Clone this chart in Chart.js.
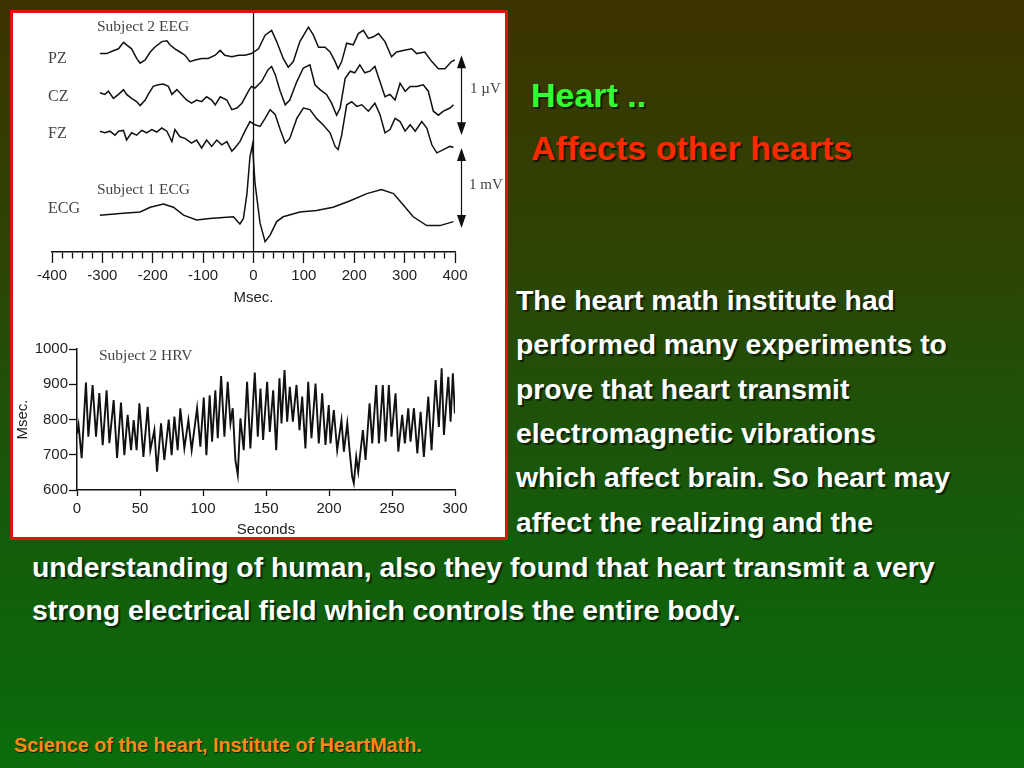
<!DOCTYPE html>
<html>
<head>
<meta charset="utf-8">
<script src="https://cdn.jsdelivr.net/npm/chart.js@4.4.0/dist/chart.umd.min.js"></script>
<style>
  html, body { margin: 0; padding: 0; }
  body {
    width: 1024px; height: 768px; overflow: hidden; position: relative;
    background: linear-gradient(180deg, #3d3200 0%, #2c4506 35%, #17590b 65%, #0b680b 94%);
    font-family: Arial, "Liberation Sans", sans-serif;
  }
  #band { position: absolute; left: 0; top: 726px; width: 1024px; height: 42px; background: #0a6c0a; }
  #figure {
    position: absolute; left: 10px; top: 10px; width: 492px; height: 524px;
    background: #fff; border: 3px solid #e0120c;
  }
  canvas { position: absolute; }
  #eeg { left: 13px; top: 13px; }
  #hrv { left: 13px; top: 320px; }
  .lbl {
    position: absolute; font-family: "Times New Roman", "Liberation Serif", serif;
    font-size: 16px; line-height: 1; color: #444; white-space: nowrap;
  }
  .lbl.sub { font-size: 15.5px; }
  .txt {
    position: absolute; font-weight: bold; line-height: 1; white-space: nowrap;
    text-shadow: 2px 2px 1px rgba(0,0,0,0.6);
  }
  .body { font-size: 28.3px; color: #fff; }
</style>
</head>
<body>
<div id="band"></div>
<div id="figure"></div>
<canvas id="eeg" width="492" height="297"></canvas>
<canvas id="hrv" width="492" height="217"></canvas>

<div class="lbl sub" style="left:97px;top:18px">Subject 2 EEG</div>
<div class="lbl" style="left:48px;top:50px">PZ</div>
<div class="lbl" style="left:48px;top:88px">CZ</div>
<div class="lbl" style="left:48px;top:125px">FZ</div>
<div class="lbl sub" style="left:97px;top:181px">Subject 1 ECG</div>
<div class="lbl" style="left:48px;top:200px">ECG</div>
<div class="lbl" style="left:470px;top:81px;font-size:15px">1 µV</div>
<div class="lbl" style="left:469px;top:177px;font-size:15px">1 mV</div>
<div class="lbl sub" style="left:99px;top:347px">Subject 2 HRV</div>

<div class="txt" style="left:531px;top:78px;font-size:34px;color:#33ff33">Heart ..</div>
<div class="txt" style="left:531px;top:131px;font-size:34px;color:#ff2a00">Affects other hearts</div>

<div class="txt body" style="left:516px;top:286px">The heart math institute had</div>
<div class="txt body" style="left:516px;top:330px">performed many experiments to</div>
<div class="txt body" style="left:516px;top:375px">prove that heart transmit</div>
<div class="txt body" style="left:516px;top:419px">electromagnetic vibrations</div>
<div class="txt body" style="left:516px;top:463px">which affect brain. So heart may</div>
<div class="txt body" style="left:516px;top:508px">affect the realizing and the</div>
<div class="txt body" style="left:32px;top:553px">understanding of human, also they found that heart transmit a very</div>
<div class="txt body" style="left:32px;top:596px">strong electrical field which controls the entire body.</div>

<div class="txt" style="left:14px;top:736px;font-size:19.8px;color:#ff8a1a;text-shadow:1px 1px 1px rgba(0,0,0,0.7)">Science of the heart, Institute of HeartMath.</div>

<script>
// EEG / ECG traces, time in msec around the R wave, amplitude in tenths of the scale bar
const pzMs  = [-305,-291,-281,-268,-258,-252,-242,-232,-225,-215,-205,-196,-182,-172,-166,-156,-146,-136,-126,-116,-103,-90,-76,-66,-57,-43,-30,-17,-4,10,23,36,46,59,69,79,92,109,119,129,142,152,162,168,175,185,198,208,218,228,238,248,261,274,284,297,314,324,340,354,367,380,393,400];
const pzAmp = [0.2,0.2,0.5,0.8,1.6,1.3,0.8,-0.4,-1.0,-0.6,0.4,1.0,1.7,1.8,1.3,0.8,0.4,0,-0.8,-0.6,-0.4,-0.4,0,0.6,0,-0.2,0,0,0.2,0.8,2.5,3.1,1.7,-0.4,-1.5,-0.8,1.7,3.5,2.5,1.0,1.0,0.4,-0.8,-1.7,-0.8,1.5,1.3,2.7,3.1,2.1,2.3,2.7,1.7,-0.2,0.4,0.6,0.8,0.2,0.4,-0.8,-1.7,-1.7,-0.8,-0.6];

const czMs  = [-305,-295,-288,-278,-268,-258,-252,-242,-232,-225,-215,-209,-199,-189,-179,-169,-162,-152,-143,-133,-123,-113,-103,-93,-83,-76,-66,-53,-43,-33,-23,-10,-4,3,16,29,36,43,53,63,72,86,99,112,122,132,145,155,165,172,182,192,201,211,221,231,241,251,261,271,281,291,301,311,324,337,347,357,367,377,390,397];
const czAmp = [0.5,0.3,0.7,-0.2,0.3,0.9,0.3,-0.2,-0.6,-1.1,-0.4,0.3,1.3,1.5,1.6,1.3,0.3,0.9,0.3,-0.4,-0.8,-0.4,-0.6,0,-0.4,-1.0,0,-0.4,-1.6,-1.4,-0.8,0.7,1.3,1.1,1.9,3.4,3.8,2.8,0.7,-1.0,-0.4,1.9,3.6,4.0,1.5,0.9,0.3,-0.8,-2.3,-1.4,2.3,3.2,3.0,4.0,3.0,3.2,3.8,1.9,0,0.3,-0.4,1.7,0.7,1.3,1.3,1.5,0.7,-1.8,-2.3,-1.8,-1.4,-1.0];

const fzMs  = [-305,-295,-285,-275,-268,-258,-252,-242,-232,-222,-212,-202,-192,-182,-172,-162,-156,-146,-136,-123,-113,-103,-93,-83,-73,-63,-53,-43,-37,-27,-17,-7,3,13,23,33,43,53,63,72,86,99,112,125,138,152,162,168,175,185,195,205,215,228,241,251,261,271,281,291,301,311,321,334,344,354,364,377,390,397];
const fzAmp = [0.2,0,0.2,-0.3,0.2,0.3,-0.9,0,-0.3,0.3,0,0.4,0.1,0.6,0.2,-1.1,0.4,-0.5,-0.7,-1.3,-0.9,-1.9,-0.9,-1.7,-0.9,-1.5,-1.1,-2.3,-1.9,-1.1,0.2,1.4,1.0,0.8,1.8,2.9,2.3,0.4,-1.3,-0.7,1.8,3.1,2.9,1.8,1.0,0,-1.7,-2.1,-0.3,3.5,3.9,3.3,3.5,2.7,3.7,2.3,0,0.4,1.8,1.4,0.2,1.0,0.2,1.4,0.6,-1.5,-2.5,-2.1,-1.7,-1.8];

const ecgMs  = [-305,-265,-225,-205,-179,-159,-139,-113,-87,-60,-40,-27,-20,-13,-7,-2,3,13,23,33,46,59,92,125,158,192,225,254,278,297,317,344,370,397];
const ecgAmp = [0,0.2,0.4,1.0,1.4,1.0,0,-0.6,-0.4,-0.3,-0.2,-1.1,-0.4,2.7,7.3,8.8,4.0,-1.0,-3.3,-2.5,-0.8,-0.2,0.4,0.6,1.0,1.8,2.7,3.2,2.7,1.3,-0.2,-1.3,-1.3,-0.8];

// HRV, R-R interval (msec) against time (seconds)
const hrvSec = [0,1.2,2.4,3.7,7.1,9.0,12.4,15.1,17.7,20.4,23.5,25.7,29.1,31.8,34.9,37.6,40.2,42.9,45.0,47.3,49.5,52.7,56.1,58.2,61.4,63.5,66.7,69.3,72.8,75.1,77.3,79.9,82.0,85.2,88.4,91.0,95.3,97.9,100.6,102.7,105.3,107.2,109.8,111.7,114.4,117.0,119.6,121.8,123.6,125.7,127.6,129.7,132.3,135.0,137.6,141.1,143.5,145.6,147.7,150.9,153.0,155.7,158.1,160.7,162.3,164.7,166.8,168.9,171.3,174.2,176.6,178.7,181.3,183.5,186.1,189.3,191.9,194.6,197.2,199.8,201.2,203.8,206.5,209.9,211.8,214.5,216.3,218.4,219.7,221.6,223.2,226.9,229.0,232.2,234.3,237.5,239.6,242.7,244.9,247.5,249.6,252.8,255.0,258.1,260.2,262.9,264.7,267.4,270.1,272.7,275.3,278.8,281.4,284.6,287.2,289.4,291.2,294.7,296.5,298.3,299.9];
const hrvMs  = [760,785,740,690,905,751,898,751,875,727,883,733,855,691,848,699,813,713,798,713,846,694,836,713,770,652,789,685,800,699,808,713,832,718,798,713,832,723,862,699,869,737,883,747,923,751,907,789,832,685,643,803,713,907,718,933,751,888,742,907,765,883,713,917,789,940,794,893,794,898,770,865,718,907,747,902,732,874,728,841,732,827,713,798,709,789,713,638,619,694,652,770,685,846,732,898,732,898,737,898,751,874,709,813,732,832,737,832,704,822,694,865,713,912,779,945,756,921,794,931,817];

// where each channel sits on the stacked EEG plot
const CH_OFFSET = { pz: 24.6, cz: 19.4, fz: 14.9, ecg: 4.6 };
const Y_TOP = 29.875;
const BAR_MS = 411;
const BARS = [ { from: 14.6, to: 24.6 }, { from: 3, to: 13 } ];

Chart.defaults.font.family = 'Arial, "Liberation Sans", sans-serif';
Chart.defaults.font.size = 15;
Chart.defaults.color = '#222';
Chart.defaults.animation = false;
Chart.defaults.plugins.legend.display = false;
Chart.defaults.plugins.tooltip.enabled = false;

function trace(xs, ys, offset) {
  return xs.map((x, i) => ({ x: x, y: ys[i] + (offset || 0) }));
}

function line(data, w) {
  return { data: data, borderColor: '#111', borderWidth: w || 1.4, pointRadius: 0, tension: 0, fill: false };
}

const scaleBars = {
  id: 'scaleBars',
  afterDatasetsDraw(chart) {
    const { ctx, scales: { x, y } } = chart;
    const px = Math.round(x.getPixelForValue(BAR_MS)) + 0.5;
    ctx.save();
    ctx.strokeStyle = '#111';
    ctx.fillStyle = '#111';
    ctx.lineWidth = 1.2;
    BARS.forEach(b => {
      const top = y.getPixelForValue(b.to), bot = y.getPixelForValue(b.from);
      ctx.beginPath(); ctx.moveTo(px, top + 10); ctx.lineTo(px, bot - 10); ctx.stroke();
      ctx.beginPath(); ctx.moveTo(px, top); ctx.lineTo(px - 4.5, top + 13); ctx.lineTo(px + 4.5, top + 13); ctx.closePath(); ctx.fill();
      ctx.beginPath(); ctx.moveTo(px, bot); ctx.lineTo(px - 4.5, bot - 13); ctx.lineTo(px + 4.5, bot - 13); ctx.closePath(); ctx.fill();
    });
    ctx.restore();
  }
};

new Chart(document.getElementById('eeg'), {
  type: 'line',
  data: {
    datasets: [
      line(trace(pzMs, pzAmp, CH_OFFSET.pz), 1.5),
      line(trace(czMs, czAmp, CH_OFFSET.cz), 1.5),
      line(trace(fzMs, fzAmp, CH_OFFSET.fz), 1.5),
      line(trace(ecgMs, ecgAmp, CH_OFFSET.ecg), 1.5),
      line([{ x: 0, y: 0 }, { x: 0, y: Y_TOP }], 1.3)
    ]
  },
  options: {
    responsive: false,
    layout: { padding: { left: 39, right: 50, top: 0, bottom: 0 } },
    scales: {
      x: {
        type: 'linear', min: -400, max: 400,
        afterFit: s => { s.height = 58; },
        grid: {
          drawOnChartArea: false, tickLength: 11, tickColor: '#111', tickWidth: 1.3,
          tickBorderDash: c => (c.tick && Math.abs(Math.round(c.tick.value)) % 100 === 0) ? [] : [6, 20]
        },
        border: { color: '#111', width: 1.5 },
        ticks: {
          stepSize: 20, autoSkip: false, maxRotation: 0, padding: 4,
          callback: v => Math.abs(Math.round(v)) % 100 === 0 ? String(Math.round(v)) : ''
        },
        title: { display: true, text: 'Msec.', padding: { top: 0, bottom: 3 } }
      },
      y: { display: false, min: 0, max: Y_TOP }
    }
  },
  plugins: [scaleBars]
});

new Chart(document.getElementById('hrv'), {
  type: 'line',
  data: { datasets: [ line(trace(hrvSec, hrvMs), 1.9) ] },
  options: {
    responsive: false,
    layout: { padding: { left: 0, right: 50, top: 29, bottom: 0 } },
    scales: {
      x: {
        type: 'linear', min: 0, max: 300,
        afterFit: s => { s.height = 47; },
        grid: { drawOnChartArea: false, tickLength: 6, tickColor: '#111', tickWidth: 1.3 },
        border: { color: '#111', width: 1.5 },
        ticks: { stepSize: 50, padding: 4, maxRotation: 0, callback: v => String(v) },
        title: { display: true, text: 'Seconds', font: { lineHeight: 1 }, padding: 0 }
      },
      y: {
        min: 600, max: 1000,
        afterFit: s => { s.width = 64; },
        grid: { drawOnChartArea: false, tickLength: 8, tickColor: '#111', tickWidth: 1.3 },
        border: { color: '#111', width: 1.5 },
        ticks: { stepSize: 100, padding: 1, callback: v => String(v) },
        title: { display: true, text: 'Msec.', font: { lineHeight: 1 }, padding: { top: 2, bottom: 0 } }
      }
    }
  }
});
</script>
</body>
</html>
